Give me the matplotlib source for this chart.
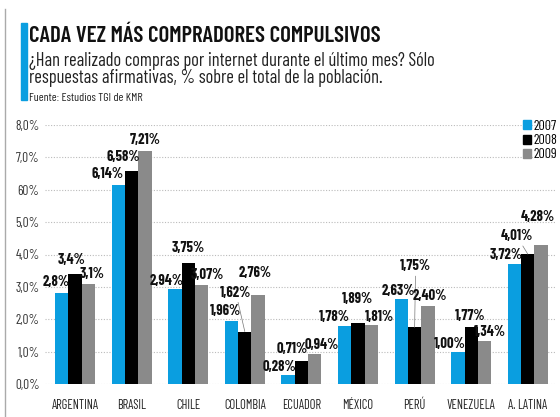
import matplotlib
matplotlib.use('Agg')
import matplotlib.pyplot as plt
from matplotlib.lines import Line2D
from matplotlib.patches import Rectangle
import numpy as np

plt.rcParams['font.family'] = ['Barlow Condensed', 'DejaVu Sans']

# data
paises = ['ARGENTINA', 'BRASIL', 'CHILE', 'COLOMBIA', 'ECUADOR',
          'MÉXICO', 'PERÚ', 'VENEZUELA', 'A. LATINA']
v2007 = [2.80, 6.14, 2.94, 1.96, 0.28, 1.78, 2.63, 1.00, 3.72]
v2008 = [3.40, 6.58, 3.75, 1.62, 0.71, 1.89, 1.75, 1.77, 4.01]
v2009 = [3.10, 7.21, 3.07, 2.76, 0.94, 1.81, 2.40, 1.34, 4.28]
lab2007 = ['2,8%', '6,14%', '2,94%', '1,96%', '0,28%', '1,78%', '2,63%', '1,00%', '3,72%']
lab2008 = ['3,4%', '6,58%', '3,75%', '1,62%', '0,71%', '1,89%', '1,75%', '1,77%', '4,01%']
lab2009 = ['3,1%', '7,21%', '3,07%', '2,76%', '0,94%', '1,81%', '2,40%', '1,34%', '4,28%']
anios = ['2007', '2008', '2009']
yticks = [0, 1, 2, 3, 4, 5, 6, 7, 8]
ytick_labels = ['0,0%', '1,0%', '2,0%', '3,0%', '4,0%', '5,0%', '60%', '7,0%', '8,0%']

colores = ['#0a9ee0', '#000000', '#8a8a8a']

# label offsets in pixels (dx, dy) from bar top centre
off2007 = [(-6, 4), (-11, 4), (-8, 1), (-6, 3), (-9, 1), (-10, 2), (-3, 1), (-8, 1), (-8, 2)]
off2008 = [(-3, 7), (-8, 7), (0, 8), (-9, 32), (-9, 5), (-1, 17), (1, 54), (-1, 4), (-11, 11)]
off2009 = [(4, 3), (0, 4), (6, 3), (-3, 15), (7, 2), (8, 1), (2, 3), (5, 2), (-3, 21)]
con_linea = [(1, 3), (1, 6), (1, 8)]  # (serie, pais) with leader line

fig = plt.figure(figsize=(5.6, 4.17), dpi=100)
ax = fig.add_axes([45 / 560, 33 / 417, 510 / 560, (384 - 125) / 417])

x = np.arange(len(paises))
w = 0.235
series = [v2007, v2008, v2009]
labels = [lab2007, lab2008, lab2009]
offsets = [off2007, off2008, off2009]
for i, (vals, col) in enumerate(zip(series, colores)):
    xs = x + (i - 1) * w
    ax.bar(xs, vals, w, color=col, label=anios[i], zorder=3)
    for j in range(len(paises)):
        dx, dy = offsets[i][j]
        props = None
        if (i, j) in con_linea:
            props = dict(arrowstyle='-', color='#777777', lw=0.5, shrinkA=0, shrinkB=0)
        ax.annotate(labels[i][j], xy=(xs[j], vals[j]), xytext=(dx, dy),
                    textcoords='offset pixels', ha='center', va='bottom',
                    fontsize=10.5, fontweight='bold', color='#111111',
                    arrowprops=props, zorder=4)

ax.set_xlim(-0.53, len(paises) - 1 + 0.48)
ax.set_ylim(0, 8)
ax.set_yticks(yticks)
ax.set_yticklabels(ytick_labels, fontsize=9.5, color='#333333')
ax.set_xticks(x)
ax.set_xticklabels(paises, fontsize=9, color='#222222')
ax.tick_params(length=0)
ax.tick_params(axis='y', pad=4)
ax.tick_params(axis='x', pad=11)
ax.grid(axis='y', linestyle=(0, (1, 1.5)), color='#bbbbbb', lw=0.8, zorder=0)
for s in ax.spines.values():
    s.set_visible(False)

handles = [Rectangle((0, 0), 1, 1, color=c) for c in colores]
fig.legend(handles, anios, loc='upper right', bbox_to_anchor=(1.012, 1 - 110 / 417),
           frameon=False, fontsize=10, handlelength=0.55, handleheight=0.6,
           handletextpad=0.15, labelspacing=0.1, borderpad=0.2)

# header
fig.add_artist(Rectangle((21 / 560, 1 - 100 / 417), 6 / 560, 77 / 417,
                         color='#0a9ee0', transform=fig.transFigure))
fig.add_artist(Line2D([5 / 560, 5 / 560], [0, 1 - 9 / 417], color='#aaaaaa', lw=1))
fig.text(29 / 560, 1 - 42 / 417, 'CADA VEZ MÁS COMPRADORES COMPULSIVOS',
         fontsize=16.5, fontweight='semibold', color='#111111', va='baseline')
fig.text(29 / 560, 1 - 66 / 417,
         '¿Han realizado compras por internet durante el último mes? Sólo',
         fontsize=13.3, color='#222222', va='baseline')
fig.text(29 / 560, 1 - 83 / 417,
         'respuestas afirmativas, % sobre el total de la población.',
         fontsize=13.3, color='#222222', va='baseline')
fig.text(29 / 560, 1 - 101 / 417, 'Fuente: Estudios TGI de KMR',
         fontsize=8.5, color='#222222', va='baseline')

fig.savefig('out.png', dpi=100)
